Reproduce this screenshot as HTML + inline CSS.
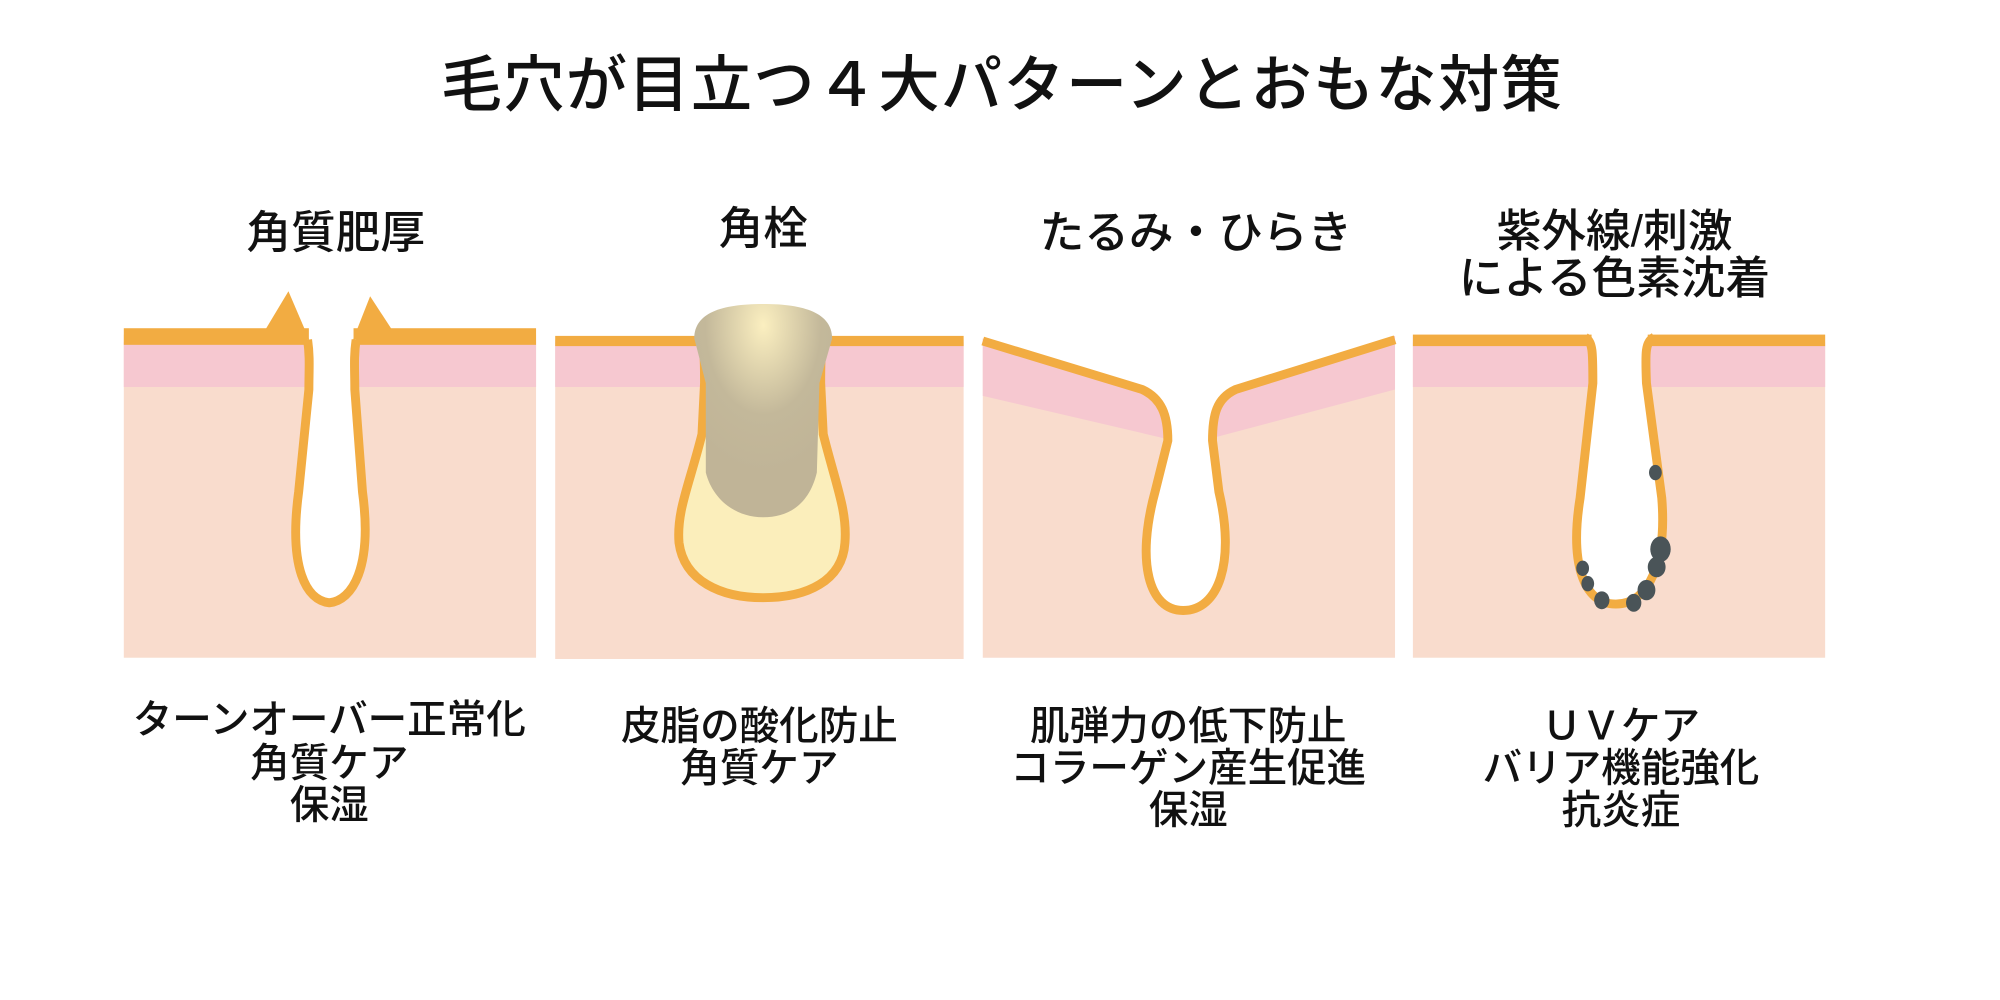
<!DOCTYPE html>
<html><head><meta charset="utf-8"><style>
html,body{margin:0;padding:0;background:#fff;width:2000px;height:1000px;overflow:hidden}
svg{display:block}
text{font-family:"Liberation Sans","Noto Sans CJK JP",sans-serif;fill:#111;text-anchor:middle;font-weight:500}
</style></head><body>
<svg width="2000" height="1000" viewBox="0 0 1567 783" preserveAspectRatio="none">
<defs>
<radialGradient id="plug" cx="0.5" cy="0.1" r="0.7">
<stop offset="0" stop-color="#fbefc0"/><stop offset="0.6" stop-color="#c3b89a"/><stop offset="1" stop-color="#c0b497"/>
</radialGradient>
</defs>
<text x="785" y="83" font-size="48" letter-spacing="1">毛穴が目立つ４大パターンとおもな対策</text>
<text x="263" y="194" font-size="35">角質肥厚</text>
<text x="598" y="191" font-size="35">角栓</text>
<text x="937" y="194" font-size="35">たるみ・ひらき</text>
<text x="1265" y="193" font-size="35">紫外線/刺激</text>
<text x="1265" y="230" font-size="35">による色素沈着</text>

<!-- panel 1 -->
<rect x="97" y="262" width="323" height="253" fill="#f9dccd"/>
<rect x="97" y="268" width="323" height="35" fill="#f6c8d0"/>
<rect x="240" y="250" width="40" height="25" fill="#fff"/>
<rect x="97" y="257" width="145" height="13" fill="#f2ac42"/>
<rect x="277" y="257" width="143" height="13" fill="#f2ac42"/>
<polygon points="208,258 226,228 244,270" fill="#f2ac42"/>
<polygon points="275,270 290,232 307,258" fill="#f2ac42"/>
<path d="M241,266 C243,280 242,290 242,305 L234,385 C226,445 240,470 258,472 C276,470 292,445 284,385 L278,305 C278,290 277,280 279,266" fill="#fff" stroke="#f2ac42" stroke-width="7"/>

<!-- panel 2 -->
<rect x="435" y="266" width="320" height="250" fill="#f9dccd"/>
<rect x="435" y="268" width="320" height="35" fill="#f6c8d0"/>
<rect x="435" y="263" width="320" height="8" fill="#f2ac42"/>
<path d="M545,267 C552,268 552,275 552,300 L550,340 C540,380 530,400 532,425 C536,455 565,468 598,468 C632,468 660,455 662,425 C664,400 655,380 645,340 L643,300 C643,275 643,268 650,267" fill="#fbeebb" stroke="#f2ac42" stroke-width="7"/>
<path d="M544,265 C544,245 565,238 598,238 C630,238 652,245 652,265 L642,300 L640,370 C634,395 618,405 598,405 C575,405 558,390 553,370 L553,300 Z" fill="url(#plug)"/>

<!-- panel 3 -->
<polygon points="770,265 900,305 960,305 1093,263 1093,515 770,515" fill="#f9dccd"/>
<polygon points="770,265 900,305 920,345 770,310" fill="#f6c8d0"/>
<polygon points="1093,263 960,305 950,343 1093,305" fill="#f6c8d0"/>
<path d="M770,267 L895,305 C910,312 915,325 915,345 L905,385 C890,440 900,478 927,478 C955,478 968,440 955,385 L950,345 C950,325 953,312 968,305 L1093,266" fill="#fff" stroke="#f2ac42" stroke-width="7"/>

<!-- panel 4 -->
<rect x="1107" y="262" width="323" height="253" fill="#f9dccd"/>
<rect x="1107" y="268" width="323" height="35" fill="#f6c8d0"/>
<rect x="1245" y="258" width="48" height="15" fill="#fff"/>
<rect x="1107" y="262" width="140" height="9" fill="#f2ac42"/>
<rect x="1291" y="262" width="139" height="9" fill="#f2ac42"/>
<path d="M1242,264 C1248,268 1248,275 1248,300 L1238,390 C1230,440 1240,473 1266,473 C1292,473 1306,440 1302,390 L1290,300 C1289,275 1289,268 1296,264" fill="#fff" stroke="#f2ac42" stroke-width="7"/>
<g fill="#4a5458">
<ellipse cx="1297" cy="370" rx="5" ry="6"/>
<ellipse cx="1301" cy="430" rx="8" ry="10"/>
<ellipse cx="1298" cy="444" rx="7" ry="8"/>
<ellipse cx="1290" cy="462" rx="7" ry="8"/>
<ellipse cx="1280" cy="472" rx="6" ry="7"/>
<ellipse cx="1255" cy="470" rx="6" ry="7"/>
<ellipse cx="1244" cy="457" rx="5" ry="6"/>
<ellipse cx="1240" cy="445" rx="5" ry="6"/>
</g>

<text x="258" y="574" font-size="31">ターンオーバー正常化</text>
<text x="258" y="608" font-size="31">角質ケア</text>
<text x="258" y="641" font-size="31">保湿</text>
<text x="595" y="579" font-size="31">皮脂の酸化防止</text>
<text x="595" y="612" font-size="31">角質ケア</text>
<text x="931" y="579" font-size="31">肌弾力の低下防止</text>
<text x="931" y="612" font-size="31">コラーゲン産生促進</text>
<text x="931" y="645" font-size="31">保湿</text>
<text x="1270" y="579" font-size="31">ＵＶケア</text>
<text x="1270" y="612" font-size="31">バリア機能強化</text>
<text x="1270" y="645" font-size="31">抗炎症</text>
</svg>
</body></html>
